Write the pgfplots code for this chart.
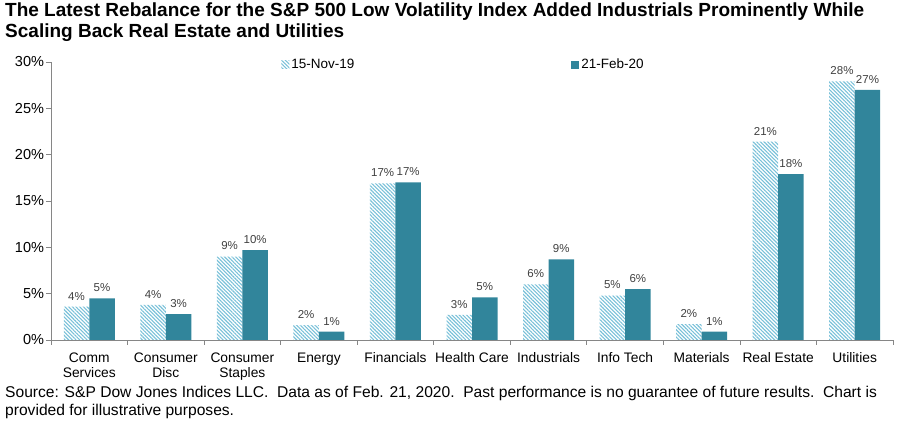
\documentclass[border=0pt]{standalone}
\usepackage{fontspec}
\setmainfont{Liberation Sans}
\usepackage{pgfplots}
\usepackage{pgfplotstable}
\pgfplotsset{compat=1.18}
\usetikzlibrary{patterns.meta}

\definecolor{hatchblue}{RGB}{120,192,216}
\definecolor{tealbar}{RGB}{49,133,155}
\definecolor{axisgray}{RGB}{134,134,134}
\definecolor{labelgray}{RGB}{64,64,64}

% x = category index, a = 15-Nov-19, b = 21-Feb-20, la/lb = printed labels
\pgfplotstableread{
x  a     b     la  lb
0  3.6   4.5   4   5
1  3.8   2.8   4   3
2  9.0   9.7   9   10
3  1.6   0.9   2   1
4  16.9  17.0  17  17
5  2.7   4.6   3   5
6  6.0   8.7   6   9
7  4.8   5.5   5   6
8  1.7   0.9   2   1
9  21.4  17.9  21  18
10 27.9  27.0  28  27
}\sectors

\begin{document}
\begin{tikzpicture}
\begin{axis}[
    at={(0pt,0pt)}, anchor=south west,
    width=842pt, height=278pt, scale only axis,
    ybar, bar width=25.5pt,
    xmin=-0.5, xmax=10.5, ymin=0, ymax=30,
    axis x line*=bottom, axis y line*=left,
    axis line style={axisgray, line width=0.8pt},
    tick align=outside,
    major tick length=5pt, minor tick length=5pt,
    /pgf/number format/assume math mode=true,
    ytick={0,5,...,30},
    yticklabel={\pgfmathprintnumber{\tick}\%},
    yticklabel style={font=\fontsize{14.5}{15}\selectfont, xshift=1.5pt},
    y tick style={axisgray, line width=0.8pt},
    xtick={0,...,10},
    major x tick style={draw=none},
    minor xtick={-0.5,0.5,...,10.5},
    minor x tick style={axisgray, line width=0.8pt},
    xticklabels={{Comm\\Services},{Consumer\\Disc},{Consumer\\Staples},Energy,Financials,Health Care,Industrials,Info Tech,Materials,Real Estate,Utilities},
    xticklabel style={align=center, anchor=north, yshift=-4pt,
        font=\fontsize{13.8}{15.5}\selectfont},
    point meta=explicit symbolic,
    nodes near coords={\pgfplotspointmeta\%},
    nodes near coords style={font=\fontsize{11.5}{13}\selectfont, text=labelgray, yshift=3pt},
    legend style={at={(0.49,0.99)}, anchor=center, draw=none, fill=none,
        legend columns=2, font=\fontsize{13.5}{15}\selectfont,
        /tikz/every even column/.append style={column sep=215pt}},
    legend image code/.code={\path[#1] (0pt,-4pt) rectangle (8pt,4pt);},
]
\addplot[bar shift=-12.75pt, draw=none,
    pattern={Lines[angle=-45, distance=2.6pt, line width=1.1pt]}, pattern color=hatchblue]
    table[x=x, y=a, meta=la] {\sectors};
\addlegendentry{15-Nov-19}
\addplot[bar shift=12.75pt, draw=none, fill=tealbar]
    table[x=x, y=b, meta=lb] {\sectors};
\addlegendentry{21-Feb-20}
\end{axis}
\node[anchor=north west, inner sep=0pt, align=left,
    font=\bfseries\fontsize{19}{21}\selectfont] at (-46pt,337pt)
    {The Latest Rebalance for the S\&P 500 Low Volatility Index Added Industrials Prominently While\\Scaling Back Real Estate and Utilities};
\node[anchor=south west, inner sep=0pt, align=left,
    font=\fontsize{15.6}{18}\selectfont] at (-46pt,-79pt)
    {Source: S\&P Dow Jones Indices LLC.\ \ Data as of Feb. 21, 2020.\ \ Past performance is no guarantee of future results.\ \ Chart is\\provided for illustrative purposes.};
\pgfresetboundingbox
\path[use as bounding box] (-51pt,-82pt) rectangle (852pt,340pt);
\end{tikzpicture}
\end{document}
